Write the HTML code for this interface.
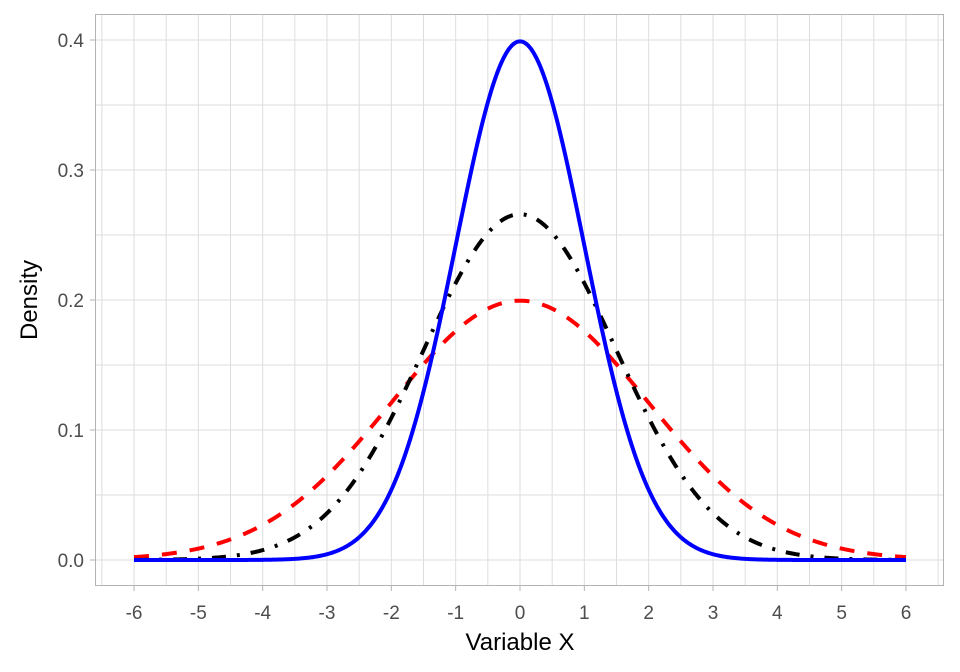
<!DOCTYPE html><html><head><style>body{margin:0;background:#fff}svg{display:block;font-family:"Liberation Sans",sans-serif}</style></head><body>
<svg id="s" width="960" height="672" xmlns="http://www.w3.org/2000/svg">
<g id="grid" stroke="#dedede" stroke-width="1"></g>
<rect x="95.5" y="14.5" width="848" height="571" fill="none" stroke="#b3b3b3" stroke-width="1"/>
<g id="ticks" stroke="#b3b3b3" stroke-width="1"></g>
<g id="lab" fill="#4d4d4d" font-size="19"></g>
<path id="red" fill="none" stroke="#ff0000" stroke-width="4" stroke-dasharray="15,13"/>
<path id="blk" fill="none" stroke="#000" stroke-width="4" stroke-dasharray="14,11,3,11"/>
<path id="blu" fill="none" stroke="#0000ff" stroke-width="4"/>
<text x="520" y="650" text-anchor="middle" font-size="24" fill="#000">Variable X</text>
<text transform="translate(37,300) rotate(-90)" text-anchor="middle" font-size="24" fill="#000">Density</text>
</svg>
<script>
const X=x=>520+x*64.33, Y=y=>560-y*1300;
let g='',t='',l='';
for(let i=-13;i<=13;i++){const x=X(i/2);if(x>96&&x<943)g+=`<line x1="${x}" y1="15" x2="${x}" y2="585"/>`;}
for(let i=-1;i<=10;i++){const y=Y(i*0.05);if(y>15&&y<585)g+=`<line x1="96" y1="${y}" x2="943" y2="${y}"/>`;}
for(let i=-6;i<=6;i++){const x=X(i);t+=`<line x1="${x}" y1="586" x2="${x}" y2="591"/>`;l+=`<text x="${x}" y="619" text-anchor="middle">${i}</text>`;}
for(let i=0;i<=4;i++){const y=Y(i/10);t+=`<line x1="90" y1="${y}" x2="95" y2="${y}"/>`;l+=`<text x="84" y="${y+7}" text-anchor="end">${(i/10).toFixed(1)}</text>`;}
grid.innerHTML=g;ticks.innerHTML=t;lab.innerHTML=l;
function p(sd){let d='';for(let i=0;i<=600;i++){const x=-6+i*0.02;const v=Math.exp(-x*x/(2*sd*sd))/(sd*Math.sqrt(2*Math.PI));d+=(i?'L':'M')+X(x).toFixed(2)+' '+Y(v).toFixed(2);}return d;}
red.setAttribute('d',p(2));blk.setAttribute('d',p(1.5));blu.setAttribute('d',p(1));
</script>
</body></html>
